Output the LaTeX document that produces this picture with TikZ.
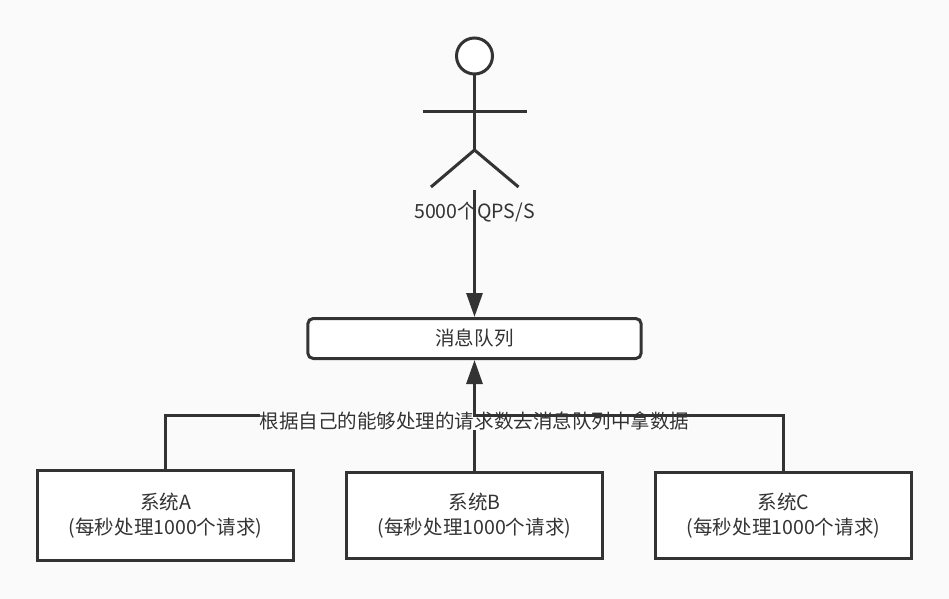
\documentclass[tikz,border=0pt]{standalone}
\usepackage{fontspec}
\setmainfont{Noto Sans CJK SC}
\usepackage{xcolor}
\usetikzlibrary{arrows.meta,calc,positioning}
\definecolor{ink}{HTML}{333333}
\definecolor{paper}{HTML}{FAFAFA}
\begin{document}
\begin{tikzpicture}[x=0.75pt,y=-0.75pt,
  lbl/.style={font=\fontsize{14.65pt}{18.6pt}\selectfont,text=ink,inner sep=0pt,align=center},
  bx/.style={draw=ink,line width=2.25pt,fill=white,lbl,minimum width=192pt,minimum height=#1},
  bx/.default=65pt,
  lnk/.style={draw=ink,line width=2.25pt},
  arr/.style={lnk,-{Triangle[length=18pt,width=12pt]}}]
  \fill[paper] (0,0) rectangle (949,599);
  \useasboundingbox (0,0) rectangle (949,599);
  % actor
  \node[circle,draw=ink,line width=2.25pt,fill=white,minimum size=27pt,inner sep=0pt] (head) at (474.5,56) {};
  \coordinate (hip) at (474.5,150);
  \coordinate (armL) at (422.5,112);
  \coordinate (armR) at (526.5,112);
  \coordinate (footL) at (431,187);
  \coordinate (footR) at (518.5,187);
  \draw[lnk] (head) -- (hip);
  \draw[lnk] (armL) -- (armR);
  \draw[lnk] (footL) -- (hip) -- (footR);
  % boxes
  \node[bx,rounded corners=4pt,minimum width=250pt,minimum height=30pt] (queue) at (474.5,338.5) {消息队列};
  \node[bx=68pt] (sysA) at (165.5,515.5) {系统A\\(每秒处理1000个请求)};
  \node[bx] (sysB) at (474.5,515.5) {系统B\\(每秒处理1000个请求)};
  \node[bx] (sysC) at (783.5,515.5) {系统C\\(每秒处理1000个请求)};
  % links
  \coordinate (top) at (474.5,190);
  \coordinate (bus) at (474.5,415);
  \node[lbl] (qps) at (474.5,212) {5000个QPS/S};
  \draw[arr] (top) -- (queue.north);
  \draw[lnk] (sysA.north) |- (bus);
  \draw[lnk] (sysB.north) -- (bus);
  \node[lbl,fill=white] (pull) at (474.5,420.5) {根据自己的能够处理的请求数去消息队列中拿数据};
  \draw[arr] (sysC.north) |- (bus) -- (queue.south);
\end{tikzpicture}
\end{document}
